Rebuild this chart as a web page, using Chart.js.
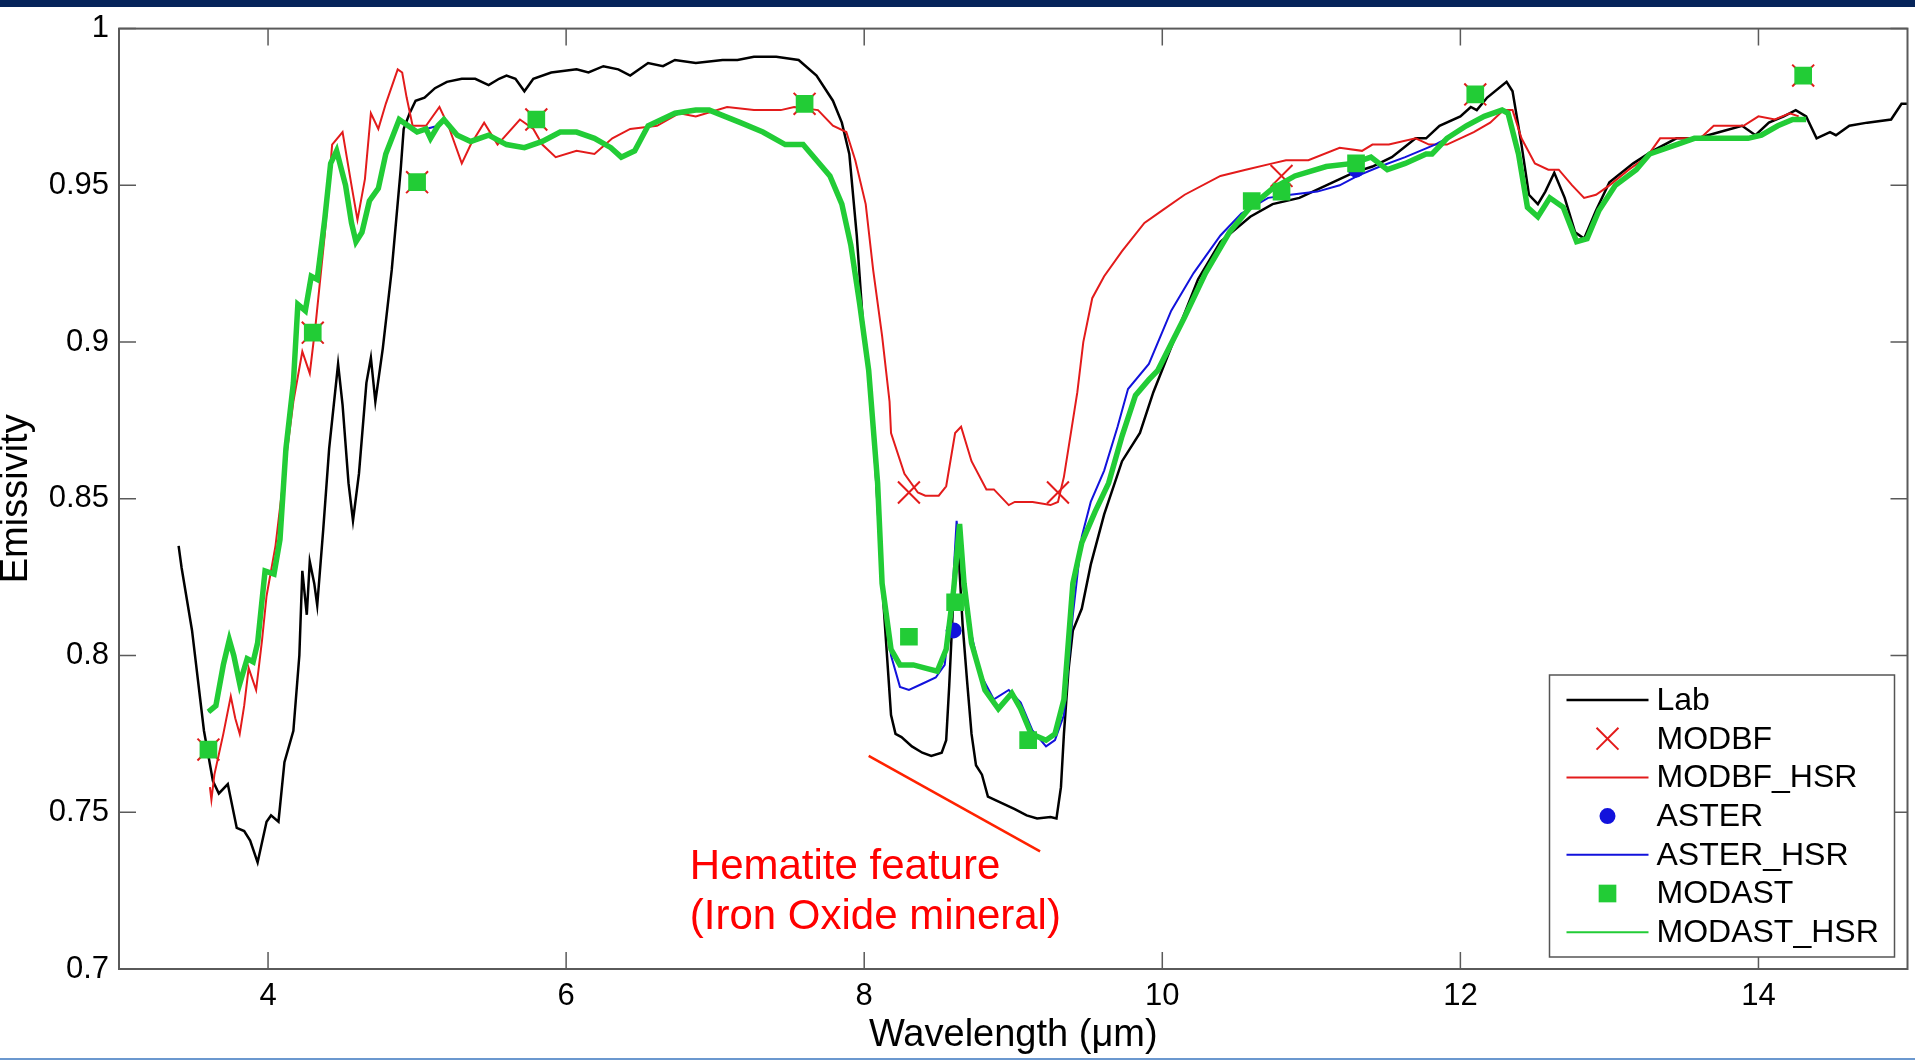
<!DOCTYPE html>
<html lang="en">

<head>
    <meta charset="UTF-8">
    <title>Emissivity Spectra</title>
    <style>
        html, body { margin: 0; padding: 0; background: #fff; overflow: hidden; }
        #wrap { position: relative; width: 1925px; height: 1060px; }
        #topBar { position: absolute; left: 0; top: 0; width: 1915px; height: 7px; background: #06245a; }
        #bottomBar { position: absolute; left: 0; top: 1058px; width: 1915px; height: 2px; background: #6b98cf; }
    </style>
</head>

<body>
    <div id="wrap">
        <canvas id="chartCanvas" width="1925" height="1060"></canvas>
        <div id="topBar"></div>
        <div id="bottomBar"></div>
    </div>

    <!-- Chart.js -->
    <script src="https://cdn.jsdelivr.net/npm/chart.js"></script>

    <script>
        // Axis ticks
        const xTicks = [4, 6, 8, 10, 12, 14];
        const xTickLabels = ['4', '6', '8', '10', '12', '14'];
        const yTicks = [0.7, 0.75, 0.8, 0.85, 0.9, 0.95, 1];
        const yTickLabels = ['0.7', '0.75', '0.8', '0.85', '0.9', '0.95', '1'];

        // Lab spectrum (black)
        const labX = [3.40, 3.42, 3.49, 3.57, 3.63, 3.67, 3.73, 3.79, 3.84, 3.88, 3.93, 3.99, 4.02, 4.07, 4.11, 4.17,
            4.21, 4.23, 4.26, 4.28, 4.31, 4.33, 4.37, 4.41, 4.47, 4.50, 4.54, 4.57, 4.61, 4.66, 4.69, 4.72, 4.77, 4.83,
            4.89, 4.91, 4.95, 4.99, 5.05, 5.12, 5.20, 5.30, 5.39, 5.48, 5.55, 5.60, 5.66, 5.72, 5.78, 5.90, 6.07, 6.15,
            6.25, 6.35, 6.43, 6.55, 6.65, 6.73, 6.87, 7.05, 7.15, 7.26, 7.41, 7.56, 7.68, 7.79, 7.85, 7.90, 7.95, 7.99,
            8.05, 8.12, 8.18, 8.21, 8.25, 8.32, 8.39, 8.45, 8.52, 8.55, 8.57, 8.60, 8.63, 8.66, 8.69, 8.72, 8.75, 8.79,
            8.83, 8.92, 9.01, 9.09, 9.16, 9.25, 9.29, 9.32, 9.34, 9.37, 9.40, 9.46, 9.52, 9.61, 9.73, 9.85, 9.94, 10.09,
            10.24, 10.39, 10.59, 10.74, 10.92, 11.10, 11.28, 11.41, 11.54, 11.70, 11.77, 11.86, 12.00, 12.07, 12.11,
            12.18, 12.31, 12.35, 12.41, 12.46, 12.52, 12.57, 12.63, 12.70, 12.77, 12.83, 12.91, 13.00, 13.16, 13.29,
            13.45, 13.59, 13.74, 13.89, 13.98, 14.07, 14.17, 14.25, 14.32, 14.39, 14.48, 14.52, 14.61, 14.73, 14.89,
            14.96, 15.00];
        const labY = [0.835, 0.828, 0.808, 0.776, 0.760, 0.756, 0.759, 0.745, 0.744, 0.741, 0.734, 0.747, 0.749, 0.747,
            0.766, 0.776, 0.800, 0.827, 0.813, 0.830, 0.823, 0.816, 0.840, 0.866, 0.893, 0.880, 0.855, 0.843, 0.858,
            0.887, 0.895, 0.881, 0.898, 0.923, 0.955, 0.968, 0.973, 0.977, 0.978, 0.981, 0.983, 0.984, 0.984, 0.982,
            0.984, 0.985, 0.984, 0.980, 0.984, 0.986, 0.987, 0.986, 0.988, 0.987, 0.985, 0.989, 0.988, 0.990, 0.989,
            0.990, 0.990, 0.991, 0.991, 0.990, 0.985, 0.977, 0.970, 0.960, 0.934, 0.907, 0.881, 0.823, 0.781, 0.775,
            0.774, 0.771, 0.769, 0.768, 0.769, 0.773, 0.790, 0.820, 0.835, 0.810, 0.792, 0.775, 0.765, 0.762, 0.755,
            0.753, 0.751, 0.749, 0.748, 0.7485, 0.748, 0.758, 0.775, 0.795, 0.808, 0.815, 0.829, 0.845, 0.862, 0.871,
            0.884, 0.902, 0.920, 0.932, 0.940, 0.944, 0.946, 0.950, 0.954, 0.956, 0.959, 0.965, 0.965, 0.969, 0.972,
            0.975, 0.974, 0.978, 0.983, 0.980, 0.963, 0.947, 0.944, 0.948, 0.954, 0.946, 0.935, 0.933, 0.942, 0.951,
            0.957, 0.961, 0.965, 0.965, 0.967, 0.969, 0.966, 0.970, 0.972, 0.974, 0.972, 0.965, 0.967, 0.966, 0.969,
            0.970, 0.971, 0.976, 0.976];

        // MODBF_HSR (red line)
        const modbfHsrX = [3.61, 3.62, 3.64, 3.70, 3.75, 3.78, 3.81, 3.84, 3.87, 3.92, 3.96, 3.99, 4.05, 4.10, 4.17,
            4.23, 4.28, 4.32, 4.38, 4.43, 4.50, 4.56, 4.60, 4.65, 4.69, 4.74, 4.79, 4.87, 4.90, 4.93, 4.97, 5.06, 5.15,
            5.21, 5.30, 5.36, 5.45, 5.54, 5.69, 5.78, 5.84, 5.93, 6.07, 6.19, 6.31, 6.43, 6.61, 6.76, 6.87, 7.08, 7.26,
            7.44, 7.53, 7.69, 7.79, 7.88, 7.94, 8.01, 8.06, 8.12, 8.17, 8.18, 8.27, 8.36, 8.41, 8.50, 8.55, 8.61, 8.65,
            8.72, 8.82, 8.87, 8.97, 9.01, 9.13, 9.25, 9.30, 9.34, 9.39, 9.43, 9.47, 9.53, 9.61, 9.73, 9.88, 10.00,
            10.15, 10.39, 10.56, 10.74, 10.83, 10.98, 11.19, 11.34, 11.41, 11.52, 11.70, 11.79, 11.91, 12.00, 12.09,
            12.20, 12.29, 12.35, 12.41, 12.50, 12.59, 12.66, 12.75, 12.83, 12.91, 13.00, 13.13, 13.25, 13.34, 13.45,
            13.61, 13.70, 13.81, 13.90, 14.00, 14.11, 14.21, 14.27];
        const modbfHsrY = [0.758, 0.754, 0.762, 0.775, 0.787, 0.780, 0.775, 0.784, 0.796, 0.789, 0.805, 0.819, 0.835,
            0.855, 0.881, 0.897, 0.890, 0.906, 0.934, 0.963, 0.967, 0.950, 0.939, 0.952, 0.973, 0.968, 0.976, 0.987,
            0.986, 0.978, 0.969, 0.969, 0.975, 0.969, 0.957, 0.963, 0.970, 0.963, 0.971, 0.968, 0.963, 0.959, 0.961,
            0.960, 0.965, 0.968, 0.969, 0.973, 0.972, 0.975, 0.974, 0.974, 0.975, 0.974, 0.969, 0.967, 0.958, 0.944,
            0.923, 0.902, 0.881, 0.871, 0.858, 0.852, 0.851, 0.851, 0.854, 0.871, 0.873, 0.862, 0.853, 0.853, 0.848,
            0.849, 0.849, 0.848, 0.849, 0.857, 0.872, 0.884, 0.900, 0.914, 0.921, 0.929, 0.938, 0.942, 0.947, 0.953,
            0.955, 0.957, 0.958, 0.958, 0.962, 0.961, 0.963, 0.963, 0.965, 0.963, 0.963, 0.965, 0.967, 0.970, 0.974,
            0.974, 0.965, 0.957, 0.955, 0.955, 0.950, 0.946, 0.947, 0.950, 0.955, 0.959, 0.965, 0.965, 0.965, 0.969,
            0.969, 0.969, 0.972, 0.971, 0.973, 0.972];

        // ASTER_HSR (blue line)
        const asterHsrX = [3.60, 3.65, 3.70, 3.74, 3.77, 3.81, 3.86, 3.90, 3.93, 3.98, 4.04, 4.08, 4.12, 4.17, 4.20,
            4.25, 4.29, 4.33, 4.38, 4.42, 4.46, 4.52, 4.56, 4.59, 4.63, 4.68, 4.74, 4.79, 4.88, 4.94, 5.00, 5.06, 5.14,
            5.18, 5.27, 5.36, 5.48, 5.60, 5.72, 5.84, 5.96, 6.07, 6.19, 6.30, 6.37, 6.46, 6.55, 6.73, 6.87, 6.96, 7.17,
            7.32, 7.47, 7.59, 7.68, 7.77, 7.85, 7.91, 7.97, 8.03, 8.09, 8.12, 8.18, 8.24, 8.30, 8.39, 8.48, 8.54, 8.59,
            8.62, 8.69, 8.78, 8.87, 8.97, 9.05, 9.13, 9.22, 9.28, 9.34, 9.40, 9.46, 9.52, 9.61, 9.70, 9.77, 9.91,
            10.06, 10.21, 10.39, 10.53, 10.71, 10.86, 11.04, 11.19, 11.31, 11.46, 11.63, 11.83, 11.91, 12.04, 12.16,
            12.28, 12.32, 12.39, 12.45, 12.52, 12.60, 12.69, 12.78, 12.85, 12.93, 13.04, 13.18, 13.27, 13.45, 13.57,
            13.73, 13.93, 14.02, 14.13, 14.23, 14.32];
        const asterHsrY = [0.782, 0.784, 0.797, 0.805, 0.800, 0.791, 0.799, 0.798, 0.804, 0.827, 0.826, 0.837, 0.866,
            0.887, 0.912, 0.910, 0.921, 0.920, 0.939, 0.957, 0.961, 0.950, 0.938, 0.932, 0.935, 0.945, 0.949, 0.960,
            0.971, 0.969, 0.967, 0.968, 0.969, 0.971, 0.966, 0.964, 0.966, 0.963, 0.962, 0.964, 0.967, 0.967, 0.965,
            0.962, 0.959, 0.961, 0.969, 0.973, 0.974, 0.974, 0.970, 0.967, 0.963, 0.963, 0.958, 0.953, 0.944, 0.931,
            0.912, 0.891, 0.855, 0.823, 0.800, 0.790, 0.789, 0.791, 0.793, 0.797, 0.818, 0.843, 0.813, 0.794, 0.786,
            0.789, 0.785, 0.776, 0.771, 0.773, 0.781, 0.813, 0.838, 0.849, 0.859, 0.873, 0.885, 0.893, 0.910, 0.922,
            0.934, 0.941, 0.946, 0.947, 0.948, 0.950, 0.953, 0.956, 0.959, 0.963, 0.965, 0.969, 0.972, 0.974, 0.973,
            0.960, 0.943, 0.940, 0.946, 0.943, 0.932, 0.933, 0.942, 0.950, 0.955, 0.960, 0.963, 0.965, 0.965, 0.965,
            0.966, 0.969, 0.971, 0.971];

        // MODAST_HSR (green line)
        const modastHsrX = [3.60, 3.65, 3.70, 3.74, 3.77, 3.81, 3.86, 3.90, 3.93, 3.98, 4.04, 4.08, 4.12, 4.17, 4.20,
            4.25, 4.29, 4.33, 4.38, 4.42, 4.46, 4.52, 4.56, 4.59, 4.63, 4.68, 4.74, 4.79, 4.88, 4.94, 5.00, 5.06, 5.09,
            5.14, 5.18, 5.27, 5.36, 5.48, 5.60, 5.72, 5.84, 5.96, 6.07, 6.19, 6.30, 6.37, 6.46, 6.55, 6.73, 6.87, 6.96,
            7.17, 7.32, 7.47, 7.59, 7.68, 7.77, 7.85, 7.91, 7.97, 8.03, 8.09, 8.12, 8.18, 8.24, 8.33, 8.41, 8.49, 8.55,
            8.60, 8.64, 8.67, 8.72, 8.81, 8.90, 8.99, 9.05, 9.12, 9.22, 9.28, 9.34, 9.40, 9.46, 9.55, 9.64, 9.73, 9.82,
            9.91, 9.97, 10.15, 10.29, 10.45, 10.59, 10.74, 10.89, 11.10, 11.28, 11.40, 11.51, 11.63, 11.77, 11.81,
            11.91, 12.04, 12.16, 12.28, 12.32, 12.39, 12.45, 12.52, 12.60, 12.69, 12.78, 12.85, 12.93, 13.04, 13.18,
            13.27, 13.45, 13.57, 13.73, 13.93, 14.02, 14.13, 14.23, 14.32];
        const modastHsrY = [0.782, 0.784, 0.797, 0.805, 0.800, 0.791, 0.799, 0.798, 0.804, 0.827, 0.826, 0.837, 0.866,
            0.887, 0.912, 0.910, 0.921, 0.920, 0.939, 0.957, 0.961, 0.950, 0.938, 0.932, 0.935, 0.945, 0.949, 0.960,
            0.971, 0.969, 0.967, 0.968, 0.965, 0.969, 0.971, 0.966, 0.964, 0.966, 0.963, 0.962, 0.964, 0.967, 0.967,
            0.965, 0.962, 0.959, 0.961, 0.969, 0.973, 0.974, 0.974, 0.970, 0.967, 0.963, 0.963, 0.958, 0.953, 0.944,
            0.931, 0.912, 0.891, 0.855, 0.823, 0.802, 0.797, 0.797, 0.796, 0.795, 0.802, 0.821, 0.842, 0.823, 0.804,
            0.789, 0.783, 0.788, 0.783, 0.775, 0.773, 0.775, 0.786, 0.823, 0.836, 0.846, 0.855, 0.870, 0.883, 0.888,
            0.891, 0.908, 0.922, 0.935, 0.943, 0.949, 0.953, 0.956, 0.957, 0.959, 0.955, 0.957, 0.960, 0.960, 0.965,
            0.969, 0.972, 0.974, 0.973, 0.960, 0.943, 0.940, 0.946, 0.943, 0.932, 0.933, 0.942, 0.950, 0.955, 0.960,
            0.963, 0.965, 0.965, 0.965, 0.966, 0.969, 0.971, 0.971];

        // Band retrievals (markers)
        const modbfX = [3.6, 4.3, 5.0, 5.8, 7.6, 8.3, 9.3, 10.8, 12.1, 14.3];
        const modbfY = [0.770, 0.903, 0.951, 0.971, 0.976, 0.852, 0.852, 0.953, 0.979, 0.985];
        const asterX = [8.3, 8.6, 9.1, 10.6, 11.3];
        const asterY = [0.806, 0.808, 0.773, 0.945, 0.955];
        const modastX = [3.6, 4.3, 5.0, 5.8, 7.6, 8.3, 8.61, 9.1, 10.6, 10.8, 11.3, 12.1, 14.3];
        const modastY = [0.770, 0.903, 0.951, 0.971, 0.976, 0.806, 0.817, 0.773, 0.945, 0.948, 0.957, 0.979, 0.985];

        // Hematite pointer line and note
        const hematiteX = [8.03, 9.18];
        const hematiteY = [0.768, 0.7375];
        const noteText = ['Hematite feature', '(Iron Oxide mineral)'];

        const pts = (xs, ys) => xs.map((x, i) => ({ x: x, y: ys[i] }));
        const FONT = '"Liberation Sans", Arial, sans-serif';
        const RED = '#e31b1b', BLUE = '#1212dc', GREEN = '#22cc36';

        // box round the plot with inward ticks on all four sides
        const frameTicks = {
            id: 'frameTicks',
            afterDatasetsDraw(chart) {
                const { ctx, chartArea: a, scales: { x, y } } = chart;
                ctx.save();
                ctx.strokeStyle = '#5a5a5a';
                ctx.lineWidth = 2;
                ctx.strokeRect(a.left, a.top, a.right - a.left, a.bottom - a.top);
                ctx.lineWidth = 1.5;
                ctx.beginPath();
                xTicks.forEach(v => {
                    const px = x.getPixelForValue(v);
                    ctx.moveTo(px, a.bottom); ctx.lineTo(px, a.bottom - 17);
                    ctx.moveTo(px, a.top); ctx.lineTo(px, a.top + 17);
                });
                yTicks.forEach(v => {
                    const py = y.getPixelForValue(v);
                    ctx.moveTo(a.left, py); ctx.lineTo(a.left + 17, py);
                    ctx.moveTo(a.right, py); ctx.lineTo(a.right - 17, py);
                });
                ctx.stroke();

                // red note under the pointer line
                ctx.fillStyle = '#ff0000';
                ctx.font = '42px ' + FONT;
                ctx.textBaseline = 'alphabetic';
                ctx.textAlign = 'left';
                const nx = x.getPixelForValue(6.83);
                ctx.fillText(noteText[0], nx, y.getPixelForValue(0.7286));
                ctx.fillText(noteText[1], nx, y.getPixelForValue(0.7127));
                ctx.restore();
            }
        };

        // legend box in the lower right corner of the plot
        const legendBox = {
            id: 'legendBox',
            afterDraw(chart) {
                const { ctx, chartArea: a } = chart;
                const w = 345, h = 282;
                const x0 = a.right - 13 - w, y0 = a.bottom - 12 - h;
                ctx.save();
                ctx.fillStyle = '#fff';
                ctx.fillRect(x0, y0, w, h);
                ctx.strokeStyle = '#555';
                ctx.lineWidth = 1.5;
                ctx.strokeRect(x0, y0, w, h);
                ctx.font = '32px ' + FONT;
                ctx.textBaseline = 'middle';
                let row = 0;
                chart.data.datasets.forEach(ds => {
                    if (!ds.label) return;
                    const cy = y0 + 25 + row * 38.7;
                    if (ds.showLine === false) {
                        ctx.fillStyle = ds.pointBackgroundColor;
                        ctx.strokeStyle = ds.pointBorderColor;
                        ctx.lineWidth = ds.pointBorderWidth;
                        Chart.helpers.drawPoint(ctx, {
                            pointStyle: ds.pointStyle, rotation: 0,
                            radius: ds.pointRadius, borderWidth: ds.pointBorderWidth
                        }, x0 + 58, cy);
                    } else {
                        ctx.strokeStyle = ds.borderColor;
                        ctx.lineWidth = ds.label === 'Lab' ? 2.5 : 2;
                        ctx.beginPath();
                        ctx.moveTo(x0 + 17, cy);
                        ctx.lineTo(x0 + 99, cy);
                        ctx.stroke();
                    }
                    ctx.fillStyle = '#000';
                    ctx.fillText(ds.label, x0 + 107, cy + 1);
                    row++;
                });
                ctx.restore();
            }
        };

        const lineSet = (label, xs, ys, color, width, order) => ({
            label: label, data: pts(xs, ys), borderColor: color, backgroundColor: color,
            borderWidth: width, pointRadius: 0, tension: 0, order: order
        });
        const markSet = (label, xs, ys, style, radius, fill, stroke, bw, order) => ({
            label: label, data: pts(xs, ys), showLine: false, pointStyle: style, pointRadius: radius,
            pointBackgroundColor: fill, pointBorderColor: stroke, pointBorderWidth: bw, order: order
        });

        const ctx = document.getElementById('chartCanvas').getContext('2d');
        new Chart(ctx, {
            type: 'line',
            data: {
                datasets: [
                    lineSet('Lab', labX, labY, '#000000', 2.5, 8),
                    markSet('MODBF', modbfX, modbfY, 'crossRot', 15.5, RED, RED, 2, 6),
                    lineSet('MODBF_HSR', modbfHsrX, modbfHsrY, RED, 2, 7),
                    markSet('ASTER', asterX, asterY, 'circle', 8, BLUE, BLUE, 0, 4),
                    lineSet('ASTER_HSR', asterHsrX, asterHsrY, BLUE, 2, 5),
                    markSet('MODAST', modastX, modastY, 'rect', 12.5, GREEN, GREEN, 0, 2),
                    lineSet('MODAST_HSR', modastHsrX, modastHsrY, GREEN, 5.5, 3),
                    lineSet('', hematiteX, hematiteY, '#ff2200', 2.5, 0)
                ]
            },
            options: {
                responsive: false,
                animation: false,
                events: [],
                layout: { padding: { left: 0, top: 24, right: 6, bottom: 0 } },
                plugins: {
                    legend: { display: false },
                    tooltip: { enabled: false }
                },
                scales: {
                    x: {
                        type: 'linear',
                        min: 3,
                        max: 15,
                        afterFit: scale => { scale.height = 91; },
                        afterBuildTicks: scale => { scale.ticks = xTicks.map(v => ({ value: v })); },
                        grid: { display: false, drawTicks: false },
                        border: { display: false },
                        ticks: {
                            autoSkip: false, maxRotation: 0, padding: 9, color: '#000',
                            font: { family: FONT, size: 31 },
                            callback: v => xTickLabels[xTicks.indexOf(v)]
                        },
                        title: {
                            display: true, text: 'Wavelength (\u03bcm)', color: '#000',
                            font: { family: FONT, size: 38 }, padding: { top: 0, bottom: 2 }
                        }
                    },
                    y: {
                        min: 0.7,
                        max: 1,
                        afterFit: scale => { scale.width = 119; },
                        afterBuildTicks: scale => { scale.ticks = yTicks.map(v => ({ value: v })); },
                        grid: { display: false, drawTicks: false },
                        border: { display: false },
                        ticks: {
                            autoSkip: false, padding: 10, color: '#000',
                            font: { family: FONT, size: 31 },
                            callback: v => yTickLabels[yTicks.indexOf(v)]
                        },
                        title: {
                            display: true, text: 'Emissivity', color: '#000',
                            font: { family: FONT, size: 38, lineHeight: 0.85 }, padding: { top: 0, bottom: 0 }
                        }
                    }
                }
            },
            plugins: [frameTicks, legendBox]
        });
    </script>

</body>

</html>
